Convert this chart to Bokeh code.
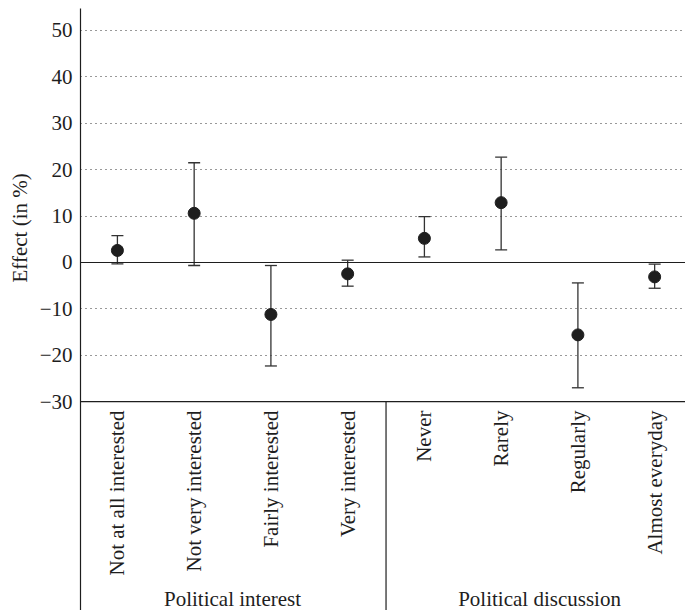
import math
from bokeh.plotting import figure
from bokeh.models import (ColumnDataSource, FixedTicker, Whisker, TeeHead, Span, Title, Range1d)
from bokeh.core.properties import value
from bokeh.embed import file_html
from bokeh.resources import INLINE

# ---- data ----
categories = ["Not at all interested", "Not very interested", "Fairly interested", "Very interested",
              "Never", "Rarely", "Regularly", "Almost everyday"]
groups = ["Political interest", "Political discussion"]
group_sizes = [4, 4]
effect = [2.6, 10.6, -11.2, -2.45, 5.2, 12.9, -15.6, -3.1]
upper = [5.8, 21.5, -0.65, 0.5, 9.9, 22.7, -4.4, -0.35]
lower = [-0.3, -0.65, -22.3, -5.1, 1.2, 2.7, -27.0, -5.55]
y_ticks = [-30, -20, -10, 0, 10, 20, 30, 40, 50]

FONT = "Liberation Serif"
FS = "21px"
INK = "#1e1e1e"

xs = [i + 1 for i in range(len(categories))]
src = ColumnDataSource(dict(x=xs, y=effect, up=upper, lo=lower, cat=categories))

ymin_axis = -30
p = figure(width=685, height=610, output_backend="svg", toolbar_location=None,
           x_range=Range1d(0.519, 8.402), y_range=Range1d(-75.0, 54.74),
           min_border_left=78, min_border_right=0, min_border_top=8, min_border_bottom=0)
p.outline_line_color = None
p.background_fill_color = "white"
p.border_fill_color = "white"

p.xaxis.visible = False
p.xgrid.visible = False

p.yaxis.ticker = FixedTicker(ticks=y_ticks)
p.yaxis.major_tick_out = 0
p.yaxis.major_tick_in = 0
p.yaxis.minor_tick_line_color = None
p.yaxis.major_label_standoff = 8
p.yaxis.major_label_text_font = FONT
p.yaxis.major_label_text_font_size = FS
p.yaxis.major_label_text_color = INK
p.yaxis.axis_line_color = INK
p.yaxis.axis_line_width = 1.2

p.ygrid.ticker = FixedTicker(ticks=[t for t in y_ticks if t not in (0, ymin_axis)])
p.ygrid.grid_line_color = "#333333"
p.ygrid.grid_line_dash = "1 4"
p.ygrid.grid_line_width = 1

p.add_layout(Span(location=0, dimension="width", line_color=INK, line_width=1.2))
p.add_layout(Span(location=ymin_axis, dimension="width", line_color=INK, line_width=1.2))

# separator between groups
sep_x = group_sizes[0] + 0.5
p.segment(x0=[sep_x], y0=[ymin_axis], x1=[sep_x], y1=[-75.0], line_color=INK, line_width=1.2)

# error bars
w = Whisker(base="x", upper="up", lower="lo", source=src, line_color="#333333", line_width=1.3,
            upper_head=TeeHead(size=12, line_color="#333333", line_width=1.3),
            lower_head=TeeHead(size=12, line_color="#333333", line_width=1.3))
p.add_layout(w)
p.scatter("x", "y", source=src, size=12, fill_color=INK, line_color=INK)

# category labels (rotated)
p.text(x="x", y=-31.9, text="cat", source=src, angle=math.pi / 2,
       text_align="right", text_baseline="middle",
       text_font=value(FONT), text_font_size=FS, text_color=INK)

# group labels
gx = []
start = 0
for n in group_sizes:
    gx.append(start + (n + 1) / 2)
    start += n
p.text(x=gx, y=[-72.5] * len(groups), text=groups, text_align="center",
       text_baseline="alphabetic", text_font=value(FONT), text_font_size=FS, text_color=INK)

# y-axis title
p.add_layout(Title(text="Effect (in %)", align="left", offset=328,
                   text_font=FONT, text_font_size=FS, text_font_style="normal",
                   text_color=INK), "left")

open("out.html", "w").write(file_html(p, INLINE))
